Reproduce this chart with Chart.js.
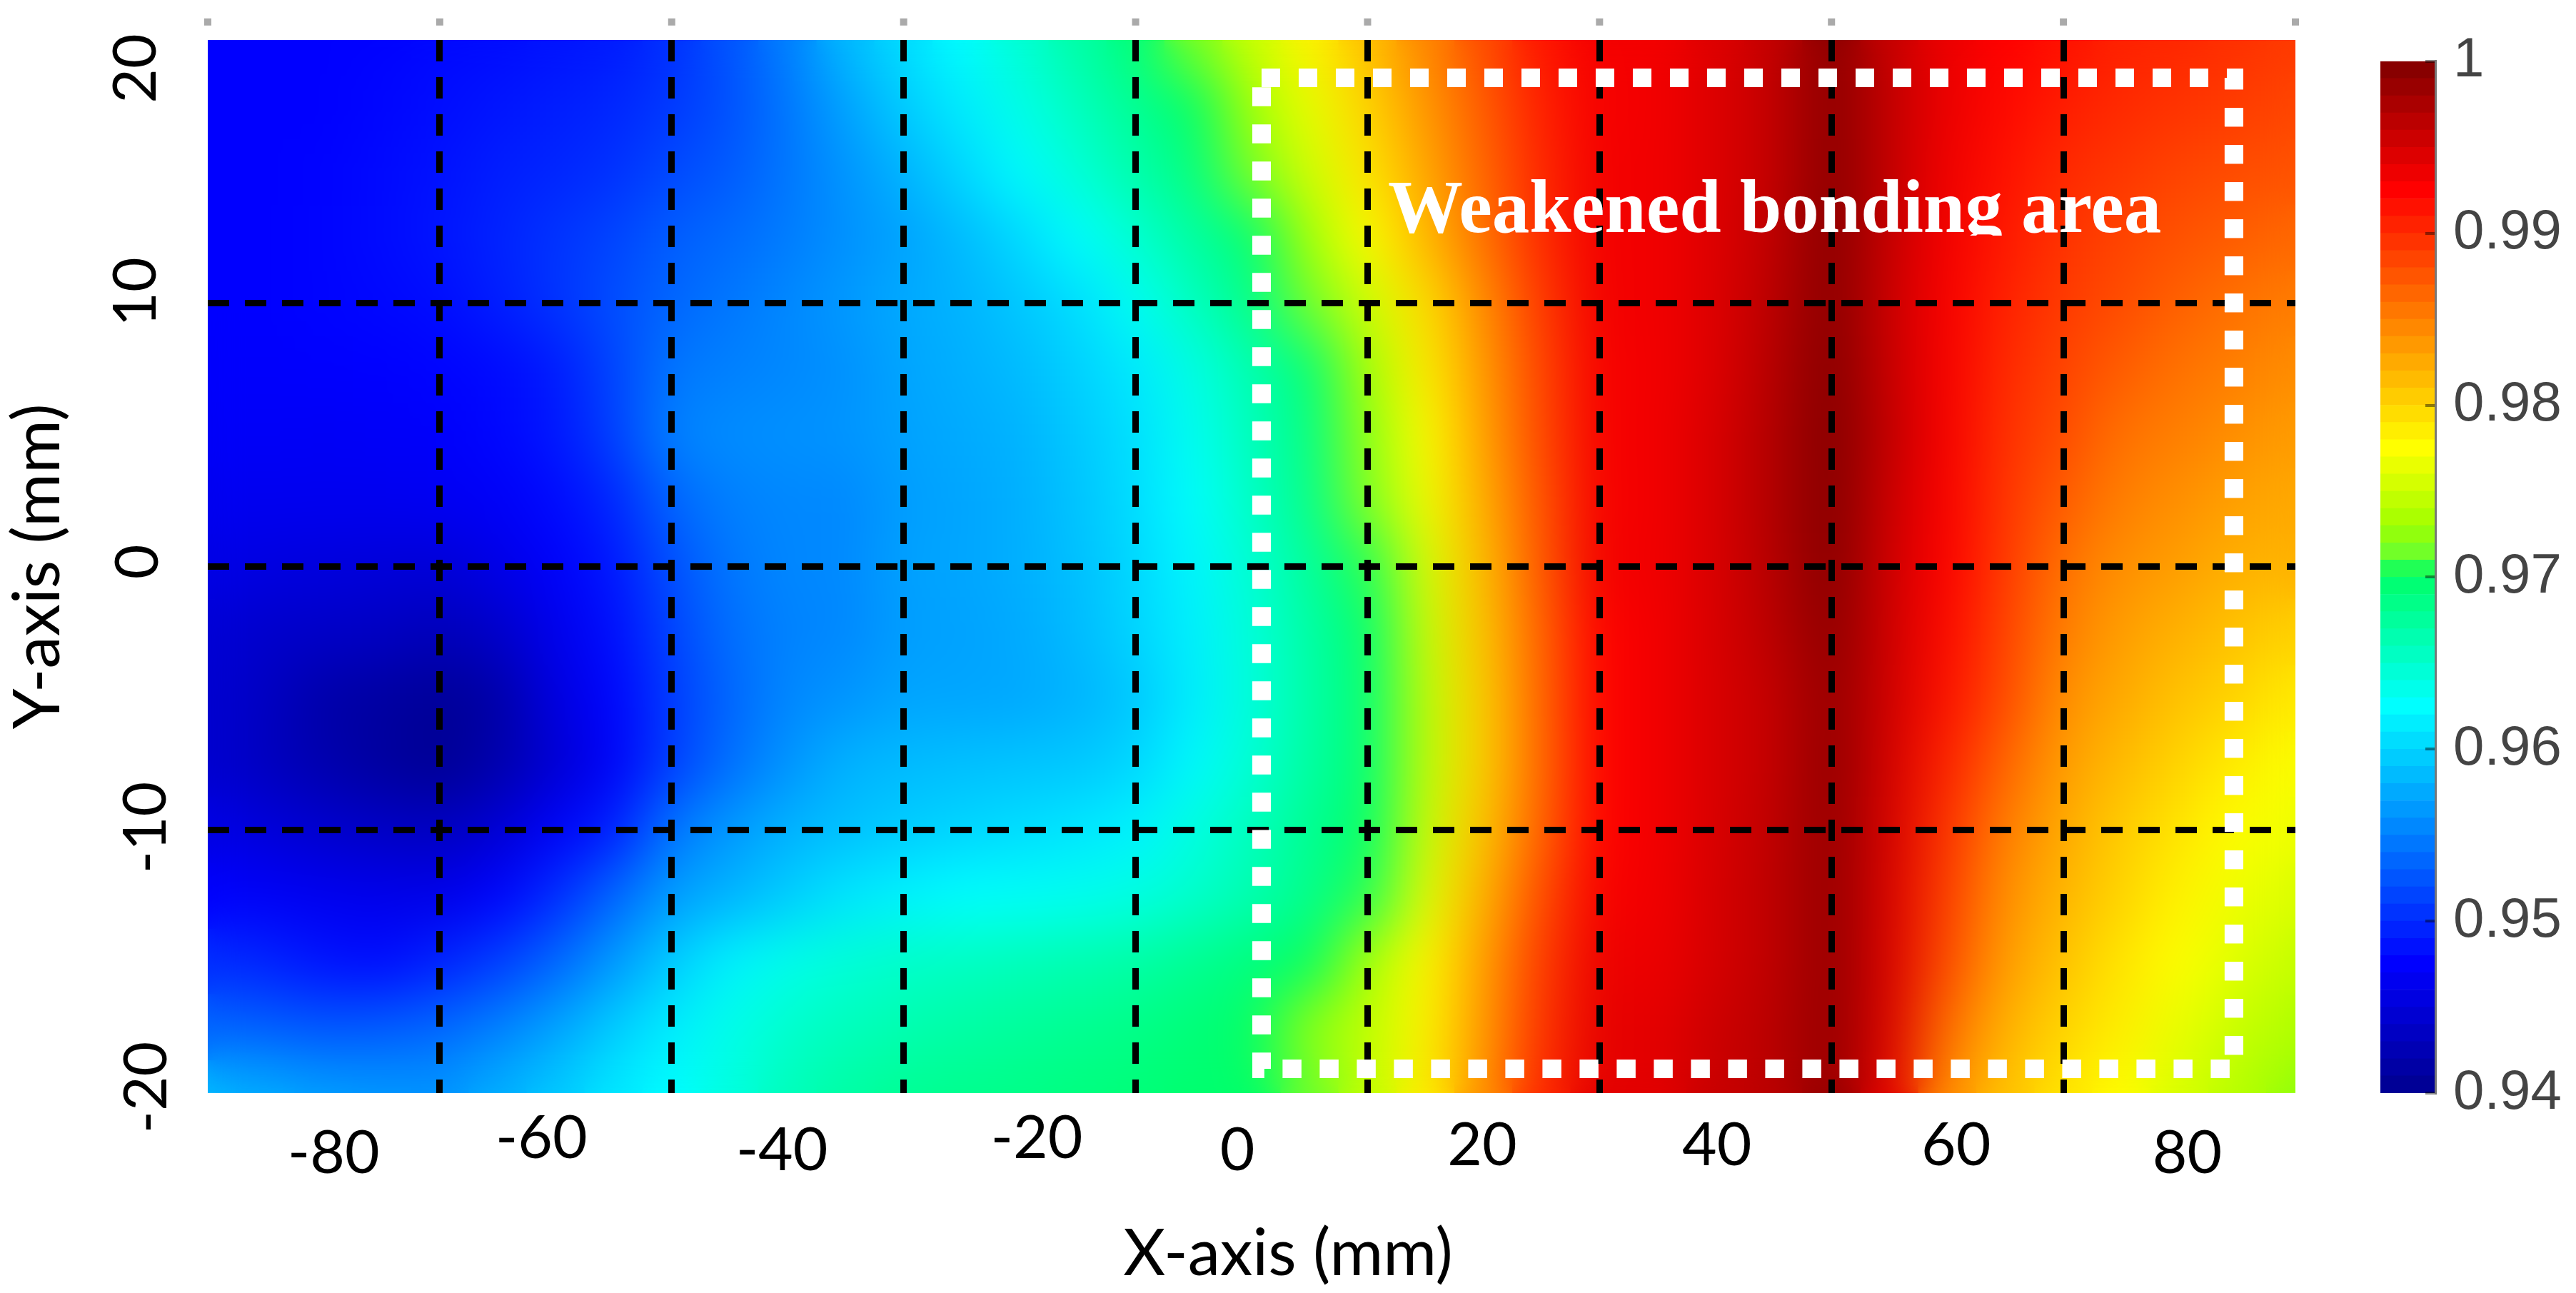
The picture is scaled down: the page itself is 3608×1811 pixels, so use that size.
<!DOCTYPE html>
<html>
<head>
<meta charset="utf-8">
<style>
html, body { margin: 0; padding: 0; background: #fff; }
#wrap { position: relative; width: 3608px; height: 1811px; overflow: hidden; }
#heat { position: absolute; left: 0; top: 0; }
#bar { position: absolute; left: 3300px; top: 0; }
</style>
<script src="https://cdn.jsdelivr.net/npm/chart.js@4"></script>
</head>
<body>
<div id="wrap">
<canvas id="heat" width="3608" height="1811"></canvas>
<canvas id="bar" width="308" height="1811"></canvas>
</div>
<script>
const xCenters = [-90,-85,-80,-75,-70,-65,-60,-55,-50,-45,-40,-35,-30,-25,-20,-15,-10,-5,0,5,10,15,20,25,30,35,40,45,50,55,60,65,70,75,80,85,90]
const yCenters = [20,17.5,15,12.5,10,7.5,5,2.5,0,-2.5,-5,-7.5,-10,-12.5,-15,-17.5,-20]

// values, one list per row, left to right
const rowP200 = [.9475,.9475,.9475,.9477,.948,.9482,.9486,.949,.9503,.9525,.955,.9585,.9605,.9625,.9648,.9671,.9694,.9721,.9751,.9782,.9814,.9847,.988,.9912,.9932,.9932,.9945,.996,.9995,.9958,.9936,.9925,.9915,.9905,.9902,.9897,.989]
const rowP175 = [.9475,.9475,.9475,.9478,.9482,.9487,.9492,.9497,.9508,.9522,.9545,.957,.9595,.9614,.9636,.9657,.9679,.97,.9733,.9765,.98,.9836,.9871,.9907,.993,.9932,.9945,.996,.9995,.996,.9935,.992,.9908,.99,.9895,.989,.9882]
const rowP150 = [.9475,.9475,.9476,.948,.9485,.9492,.9497,.9503,.9518,.9528,.9545,.9562,.958,.9601,.9623,.9645,.9667,.9689,.9718,.9754,.979,.9827,.9865,.9902,.9932,.9932,.9945,.996,.9996,.996,.9933,.9915,.99,.9893,.9885,.988,.9875]
const rowP125 = [.9475,.9475,.9477,.9481,.9487,.9495,.9505,.9515,.953,.9538,.9548,.956,.957,.9585,.9602,.9625,.9648,.9672,.9695,.9733,.9775,.9817,.9858,.99,.9932,.9932,.9945,.9962,.9997,.9958,.993,.991,.9895,.9885,.9877,.987,.9862]
const rowP100 = [.9475,.9475,.9477,.9479,.9482,.9492,.9505,.952,.9535,.9545,.9555,.9565,.9575,.958,.9592,.9605,.963,.9657,.9684,.9715,.9753,.9794,.9843,.9891,.9932,.9932,.9945,.9965,.9997,.9955,.9928,.9905,.989,.988,.9868,.9858,.985]
const rowP075 = [.9473,.9473,.9474,.9475,.9477,.948,.949,.9515,.9545,.955,.9555,.956,.9572,.9578,.9585,.9598,.9612,.9638,.9665,.9692,.9735,.9785,.9835,.9885,.993,.9932,.9945,.9968,.9999,.9957,.9928,.99,.9885,.987,.9858,.985,.984]
const rowP050 = [.947,.947,.9469,.947,.9472,.9478,.9488,.9512,.9552,.9558,.956,.9562,.957,.9575,.958,.9593,.9607,.9631,.9659,.9686,.9725,.9775,.983,.9882,.993,.9932,.9948,.997,1,.996,.9928,.9896,.988,.9858,.985,.984,.9832]
const rowP025 = [.9465,.9465,.9465,.9465,.9467,.947,.948,.9497,.9535,.955,.9555,.9555,.9568,.9572,.9578,.959,.9605,.9625,.9654,.9683,.972,.977,.9823,.9877,.993,.9932,.9948,.997,1,.9955,.9927,.9893,.987,.985,.984,.983,.9825]
const rowZero = [.9458,.9455,.9452,.945,.9448,.9458,.9473,.9488,.9522,.9545,.9555,.9555,.957,.9572,.9578,.9588,.9602,.962,.9647,.9675,.9705,.9759,.9815,.9873,.9932,.9932,.9948,.9968,.9998,.9953,.9925,.989,.9858,.984,.9832,.982,.982]
const rowM025 = [.9448,.944,.9438,.9435,.9428,.9438,.9462,.9482,.9515,.954,.9552,.9555,.9568,.957,.9575,.9585,.96,.9617,.9644,.967,.9697,.9752,.981,.9867,.9925,.9932,.9948,.9965,.9994,.9953,.992,.9885,.985,.9832,.982,.981,.98]
const rowM050 = [.9445,.9435,.9417,.9412,.9405,.9415,.9455,.9476,.951,.9535,.9555,.9562,.9572,.9572,.9574,.958,.9592,.9615,.9643,.9669,.9695,.9746,.9805,.9865,.9925,.9932,.9948,.996,.999,.9952,.9915,.988,.984,.9825,.981,.98,.9785]
const rowM075 = [.9445,.9432,.942,.941,.9402,.9418,.9445,.9472,.9512,.954,.9562,.958,.9585,.9588,.959,.9592,.9601,.9622,.9647,.9672,.9695,.9746,.9804,.9864,.9925,.9932,.9948,.996,.9992,.995,.9905,.9865,.9832,.9815,.98,.9785,.9772]
const rowM100 = [.9458,.945,.9442,.9436,.9433,.9445,.9472,.9492,.9545,.9565,.958,.9588,.9595,.96,.9605,.961,.9618,.964,.9658,.968,.97,.9752,.981,.9867,.9925,.9932,.9948,.9962,.999,.9948,.9895,.985,.9825,.9805,.979,.9775,.9765]
const rowM125 = [.9475,.947,.9465,.9462,.946,.9475,.95,.9535,.9568,.958,.9595,.961,.9618,.9625,.9628,.9632,.9639,.965,.9664,.9683,.9705,.9762,.982,.988,.993,.9932,.995,.9963,.999,.9947,.9888,.984,.9818,.98,.9782,.9768,.9755]
const rowM150 = [.9503,.9495,.9485,.948,.9494,.951,.9535,.9565,.9595,.9618,.9635,.9645,.9652,.9655,.966,.9665,.967,.968,.969,.9702,.9735,.9778,.9832,.989,.9936,.9935,.995,.9963,.999,.9946,.988,.9832,.981,.979,.9775,.976,.9745]
const rowM175 = [.9535,.953,.9525,.9528,.9535,.955,.957,.9595,.9615,.9635,.965,.9658,.9664,.967,.9675,.968,.9685,.9693,.97,.9725,.9745,.978,.9835,.9895,.994,.994,.9955,.9965,.999,.9945,.986,.982,.98,.9785,.9765,.975,.9735]
const rowM200 = [.9585,.958,.9572,.9568,.9565,.958,.9595,.9612,.9625,.9642,.966,.9672,.968,.9683,.9686,.969,.9693,.9698,.97,.9712,.9745,.9785,.984,.99,.9942,.9942,.9958,.9965,.999,.994,.984,.981,.979,.9775,.9755,.974,.9725]
const heatRows = [rowP200,rowP175,rowP150,rowP125,rowP100,rowP075,rowP050,rowP025,rowZero,rowM025,rowM050,rowM075,rowM100,rowM125,rowM150,rowM175,rowM200]

// dotted box around the weakened area, in mm
const boxX = [0.86, 84.7, 84.7, 0.86, 0.86]
const boxY = [18.56, 18.56, -19.08, -19.08, 18.56]
const areaLabel = "Weakened bonding area"

// small smudges left above the plot in the source image
const topMarkX = [-90,-70,-50,-30,-10,10,30,50,70,90]

const colorbarLevels = [.94,.941,.942,.943,.944,.945,.946,.947,.948,.949,.95,.951,.952,.953,.954,.955,.956,.957,.958,.959,.96,.961,.962,.963,.964,.965,.966,.967,.968,.969,.97,.971,.972,.973,.974,.975,.976,.977,.978,.979,.98,.981,.982,.983,.984,.985,.986,.987,.988,.989,.99,.991,.992,.993,.994,.995,.996,.997,.998,.999]

// tick labels are hand placed in the source: [dx from tick, y or x centre]
const xLabelShift = {"-80":[14,1616],"-60":[-20,1595],"-40":[-8,1612],"-20":[24,1595],"0":[-20,1612],"20":[-2,1605],"40":[2,1605],"60":[12,1605],"80":[11,1616]}
const yLabelShift = {"20":[191,96],"10":[191,409],"0":[194,787],"-10":[205,1159],"-20":[206,1523]}

const colorStops = [
    [0, 0, 0, 143], [.125, 0, 0, 255], [.375, 0, 255, 255], [.505, 0, 255, 100],
    [.515, 96, 255, 56], [.55, 160, 255, 0], [.625, 255, 255, 0], [.875, 255, 0, 0], [1, 128, 0, 0]
]

function fieldColor(v) {
    const t = Math.max(0, Math.min(1, (v - .94) / .06))
    let i = 0
    while (i < colorStops.length - 2 && t > colorStops[i + 1][0]) i++
    const a = colorStops[i], b = colorStops[i + 1]
    const f = (t - a[0]) / (b[0] - a[0])
    const c = [1, 2, 3].map(k => Math.round(a[k] + (b[k] - a[k]) * f))
    return `rgb(${c[0]},${c[1]},${c[2]})`
}

const labelFont = {family: "Lato", size: 84, lineHeight: 1}
const titleFont = {family: "Lato", size: 91, lineHeight: 1}
const HEAT_FIRST = 2

const heatDatasets = heatRows.map((row, r) => ({
    type: "bar",
    data: row.map((v, c) => ({x: xCenters[c], y: [yCenters[r] - 1.25, yCenters[r] + 1.25]})),
    backgroundColor: row.map(fieldColor),
    grouped: false,
    barPercentage: 1,
    categoryPercentage: 1,
    borderWidth: 0
}))

const placeLabels = {
    id: "placeLabels",
    afterUpdate(chart) {
        chart.scales.x.getLabelItems().forEach(item => {
            const s = xLabelShift[item.label]
            if (!s) return
            item.textOffset = 0
            item.options.translation = [chart.scales.x.getPixelForValue(Number(item.label)) + s[0], s[1]]
            item.options.textBaseline = "middle"
            item.options.textAlign = "center"
        })
        chart.scales.y.getLabelItems().forEach(item => {
            const s = yLabelShift[item.label]
            if (!s) return
            item.textOffset = 0
            item.options.translation = s
            item.options.rotation = -Math.PI / 2
            item.options.textBaseline = "middle"
            item.options.textAlign = "center"
        })
    }
}

// smooth the cells once all rows are on the canvas, the source is a filled contour
const smoothCells = {
    id: "smoothCells",
    afterDatasetDraw(chart, args) {
        if (args.index !== HEAT_FIRST) return
        const a = chart.chartArea, ctx = chart.ctx
        ctx.save()
        ctx.beginPath()
        ctx.rect(a.left, a.top, a.width, a.height)
        ctx.clip()
        ctx.filter = "blur(24px)"
        for (let i = 0; i < 3; i++) {
            ctx.drawImage(chart.canvas, a.left, a.top, a.width, a.height, a.left, a.top, a.width, a.height)
        }
        ctx.restore()
    }
}

const overlay = {
    id: "overlay",
    afterDraw(chart) {
        const ctx = chart.ctx
        // box goes over the black grid
        chart.getDatasetMeta(0).dataset.draw(ctx, chart.chartArea)
        ctx.save()
        ctx.beginPath()
        ctx.rect(1900, 200, 1200, 130)
        ctx.clip()
        ctx.fillStyle = "#fff"
        ctx.font = "bold 105px 'Liberation Serif'"
        ctx.textBaseline = "alphabetic"
        ctx.fillText(areaLabel, 1944, 325, 1084)
        ctx.restore()
    }
}

function dashedGrid(show) {
    return {
        z: 1,
        offset: false,
        drawTicks: false,
        lineWidth: 9,
        color: c => (c.tick && show(c.tick.value)) ? "#000" : "transparent"
    }
}

new Chart(document.getElementById("heat"), {
    type: "bar",
    data: {
        datasets: [
            {
                type: "line",
                data: boxX.map((x, i) => ({x: x, y: boxY[i]})),
                borderColor: "#fff",
                borderWidth: 26,
                borderDash: [26, 26],
                borderJoinStyle: "miter",
                pointRadius: 0,
                tension: 0,
                fill: false
            },
            {
                type: "line",
                data: topMarkX.flatMap(x => [{x: x, y: 20.55}, {x: x, y: 20.82}, {x: x, y: null}]),
                borderColor: "#aaa",
                borderWidth: 10,
                pointRadius: 0,
                tension: 0,
                fill: false,
                clip: false
            },
            ...heatDatasets
        ]
    },
    options: {
        responsive: false,
        devicePixelRatio: 1,
        animation: false,
        events: [],
        layout: {padding: {top: 56, left: 0, right: 0, bottom: 0}},
        plugins: {
            legend: {display: false},
            tooltip: {enabled: false},
            title: {
                display: true,
                text: "X-axis (mm)",
                position: "bottom",
                color: "#000",
                font: {family: "Lato", size: 91, weight: "normal", lineHeight: 1.2},
                padding: {top: 0, bottom: 0}
            }
        },
        scales: {
            x: {
                type: "linear",
                offset: false,
                min: -90,
                max: 90,
                grid: dashedGrid(v => Math.abs(v) % 20 === 10 && Math.abs(v) !== 90),
                border: {display: false, dash: [30, 22]},
                ticks: {
                    stepSize: 10,
                    autoSkip: false,
                    maxRotation: 0,
                    color: "#000",
                    font: labelFont,
                    callback: v => v % 20 === 0 ? String(v) : ""
                },
                afterFit(s) { s.height = 171 }
            },
            y: {
                min: -20,
                max: 20,
                grid: dashedGrid(v => Math.abs(v) !== 20),
                border: {display: false, dash: [30, 22]},
                ticks: {
                    stepSize: 10,
                    minRotation: 90,
                    crossAlign: "center",
                    color: "#000",
                    font: labelFont,
                    callback: v => String(v)
                },
                title: {
                    display: true,
                    text: "Y-axis (mm)",
                    color: "#000",
                    font: titleFont,
                    padding: {top: 8, bottom: 0}
                },
                afterFit(s) { s.width = 291 }
            },
            pad: {
                type: "linear",
                axis: "y",
                position: "right",
                grid: {display: false},
                border: {display: false},
                ticks: {display: false},
                afterFit(s) { s.width = 393 }
            }
        }
    },
    plugins: [placeLabels, smoothCells, overlay]
})

new Chart(document.getElementById("bar"), {
    type: "bar",
    data: {
        labels: ["scale"],
        datasets: colorbarLevels.map(v => ({
            data: [[v, v + .001]],
            backgroundColor: fieldColor(v + .0005),
            grouped: false,
            barPercentage: 1,
            categoryPercentage: 1,
            borderWidth: 0
        }))
    },
    options: {
        responsive: false,
        devicePixelRatio: 1,
        animation: false,
        events: [],
        layout: {padding: {top: 56, left: 34, right: 0, bottom: 280}},
        plugins: {legend: {display: false}, tooltip: {enabled: false}},
        scales: {
            x: {display: false},
            y: {
                position: "right",
                min: .94,
                max: 1,
                grid: {drawOnChartArea: false, tickLength: -14, lineWidth: 4, color: "rgba(0,0,0,.45)", z: 1},
                border: {color: "#777", width: 3, z: 1},
                ticks: {
                    stepSize: .01,
                    padding: 39,
                    color: "#444",
                    font: {family: "Liberation Sans", size: 78},
                    callback: v => v >= .9999 ? "1" : v.toFixed(2)
                },
                afterFit(s) { s.width = 197 }
            }
        }
    }
})
</script>
</body>
</html>
